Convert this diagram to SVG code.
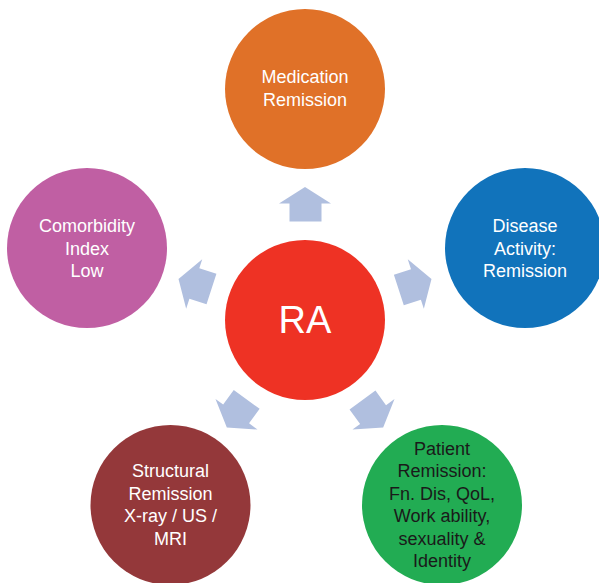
<svg xmlns="http://www.w3.org/2000/svg" xmlns:xlink="http://www.w3.org/1999/xlink" width="599" height="583" viewBox="0 0 599 583">
<style>
  text { font-family: "Liberation Sans", Arial, sans-serif; font-size: 18px; text-anchor: middle; }
  .w { fill: #ffffff; }
  .k { fill: #1a1a1a; }
  .arrow { fill: #b0bfdf; }
</style>
<defs>
  <path id="arr" d="M305,187 L331,203.5 L321.5,203.5 L321.5,221.5 L289.5,221.5 L289.5,203.5 L279,203.5 Z"/>
</defs>
<rect width="599" height="583" fill="#ffffff"/>
<g id="connectors" class="arrow">
  <use xlink:href="#arr"/>
  <use xlink:href="#arr" transform="rotate(72 305 320)"/>
  <use xlink:href="#arr" transform="rotate(144 305 320)"/>
  <use xlink:href="#arr" transform="rotate(216 305 320)"/>
  <use xlink:href="#arr" transform="rotate(288 305 320)"/>
</g>
<g id="ra">
  <circle cx="305" cy="320" r="80" fill="#ee3224"/>
  <text x="305" y="333" class="w" style="font-size:38px">RA</text>
</g>
<g id="medication">
  <circle cx="305" cy="89" r="80" fill="#e07128"/>
  <text x="305" y="83" class="w">Medication</text>
  <text x="305" y="105.5" class="w">Remission</text>
</g>
<g id="disease">
  <circle cx="525" cy="248" r="80" fill="#1173bb"/>
  <text x="525" y="232" class="w">Disease</text>
  <text x="525" y="254.5" class="w">Activity:</text>
  <text x="525" y="277" class="w">Remission</text>
</g>
<g id="comorbidity">
  <circle cx="87" cy="248" r="80" fill="#c05fa3"/>
  <text x="87" y="232" class="w">Comorbidity</text>
  <text x="87" y="254.5" class="w">Index</text>
  <text x="87" y="277" class="w">Low</text>
</g>
<g id="structural">
  <circle cx="170.5" cy="505" r="80" fill="#94383a"/>
  <text x="170.5" y="477" class="w">Structural</text>
  <text x="170.5" y="499.5" class="w">Remission</text>
  <text x="170.5" y="522" class="w">X-ray / US /</text>
  <text x="170.5" y="544.5" class="w">MRI</text>
</g>
<g id="patient">
  <circle cx="442" cy="505" r="80" fill="#22ac53"/>
  <text x="442" y="454.5" class="k">Patient</text>
  <text x="442" y="477" class="k">Remission:</text>
  <text x="442" y="499.5" class="k">Fn. Dis, QoL,</text>
  <text x="442" y="522" class="k">Work ability,</text>
  <text x="442" y="544.5" class="k">sexuality &amp;</text>
  <text x="442" y="567" class="k">Identity</text>
</g>
</svg>
